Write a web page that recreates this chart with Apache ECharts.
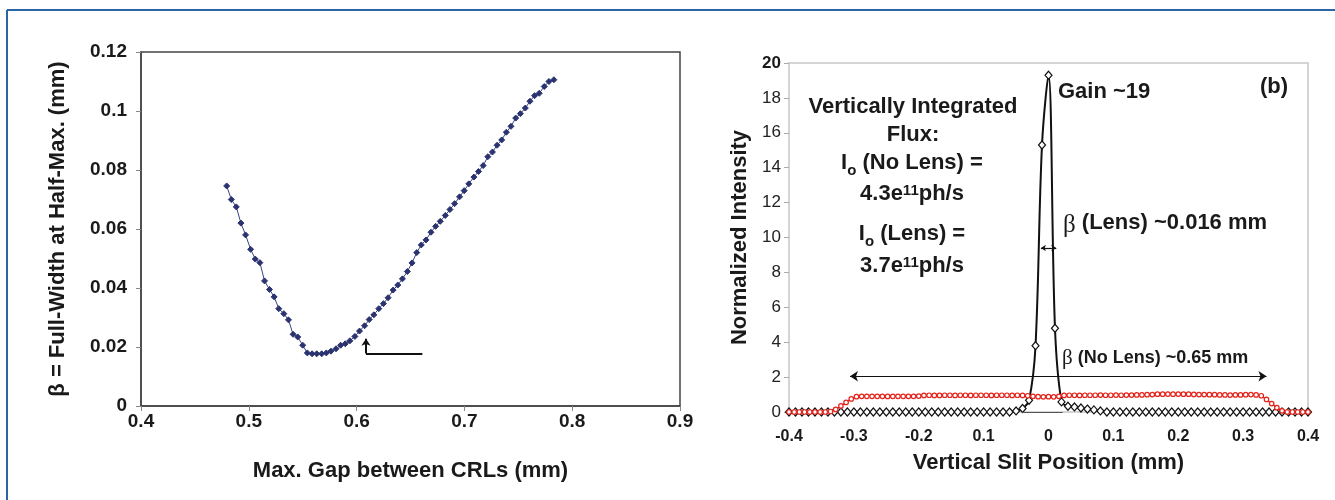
<!DOCTYPE html>
<html><head><meta charset="utf-8">
<script src="https://cdn.jsdelivr.net/npm/echarts@6/dist/echarts.min.js"></script>
<style>html,body{margin:0;padding:0;background:#fff}#c{width:1335px;height:500px}</style>
</head><body><div id="c"></div>
<script>
// ---- Left panel: FWHM vs max gap ----
const gapMm = [0.4795,0.4838,0.4884,0.4927,0.4970,0.5017,0.5060,0.5103,0.5146,0.5192,0.5235,0.5278,0.5325,0.5368,0.5411,0.5454,0.5500,0.5543,0.5587,0.5630,0.5676,0.5719,0.5762,0.5809,0.5852,0.5895,0.5938,0.5984,0.6027,0.6074,0.6117,0.6160,0.6206,0.6249,0.6292,0.6339,0.6382,0.6425,0.6471,0.6514,0.6558,0.6600,0.6644,0.6690,0.6733,0.6776,0.6823,0.6866,0.6909,0.6955,0.6998,0.7041,0.7088,0.7131,0.7174,0.7217,0.7260,0.7303,0.7346,0.7389,0.7432,0.7476,0.7519,0.7565,0.7608,0.7651,0.7694,0.7741,0.7784,0.7830];
const fwhmMm = [0.0746,0.0700,0.0675,0.0620,0.0580,0.0531,0.0498,0.0486,0.0424,0.0395,0.0370,0.0330,0.0313,0.0292,0.0243,0.0234,0.0206,0.0180,0.0177,0.0177,0.0177,0.0180,0.0186,0.0194,0.0206,0.0211,0.0221,0.0236,0.0254,0.0272,0.0293,0.0309,0.0330,0.0347,0.0367,0.0393,0.0410,0.0431,0.0456,0.0485,0.0520,0.0546,0.0563,0.0589,0.0609,0.0626,0.0646,0.0666,0.0686,0.0709,0.0730,0.0753,0.0776,0.0795,0.0815,0.0845,0.0861,0.0884,0.0902,0.0928,0.0948,0.0976,0.0991,0.1010,0.1033,0.1052,0.1060,0.1083,0.1100,0.1106];
const leftXTicks = ['0.4','0.5','0.6','0.7','0.8','0.9'];
const leftYTicks = ['0','0.02','0.04','0.06','0.08','0.1','0.12'];
const arrowLeft = {x0:0.661, x1:0.6087, y0:0.0178, yTip:0.0228};

// ---- Right panel: normalized intensity profiles ----
const slitLens = [-0.40,-0.39,-0.38,-0.37,-0.36,-0.35,-0.34,-0.33,-0.32,-0.31,-0.30,-0.29,-0.28,-0.27,-0.26,-0.25,-0.24,-0.23,-0.22,-0.21,-0.20,-0.19,-0.18,-0.17,-0.16,-0.15,-0.14,-0.13,-0.12,-0.11,-0.10,-0.09,-0.08,-0.07,-0.06,-0.05,-0.04,-0.03,-0.02,-0.01,0,0.01,0.02,0.03,0.04,0.05,0.06,0.07,0.08,0.09,0.10,0.11,0.12,0.13,0.14,0.15,0.16,0.17,0.18,0.19,0.20,0.21,0.22,0.23,0.24,0.25,0.26,0.27,0.28,0.29,0.30,0.31,0.32,0.33,0.34,0.35,0.36,0.37,0.38,0.39,0.40];
const lensIntensity = [0,0,0,0,0,0,0,0,0,0,0,0,0,0,0,0,0,0,0,0,0,0,0,0,0,0,0,0,0,0,0,0,0,0,0,
  0.06,0.2,0.67,3.8,15.3,19.3,4.8,0.58,0.33,0.29,0.23,0.17,0.12,0.06,
  0,0,0,0,0,0,0,0,0,0,0,0,0,0,0,0,0,0,0,0,0,0,0,0,0,0,0,0,0,0,0,0];
const slitNoLens = [-0.400,-0.392,-0.384,-0.376,-0.368,-0.360,-0.352,-0.344,-0.336,-0.328,-0.320,-0.312,-0.304,-0.296,-0.288,-0.280,-0.272,-0.264,-0.256,-0.248,-0.240,-0.232,-0.224,-0.216,-0.208,-0.200,-0.192,-0.184,-0.176,-0.168,-0.160,-0.152,-0.144,-0.136,-0.128,-0.120,-0.112,-0.104,-0.096,-0.088,-0.080,-0.072,-0.064,-0.056,-0.048,-0.040,-0.032,-0.024,-0.016,-0.008,0,0.008,0.016,0.024,0.032,0.040,0.048,0.056,0.064,0.072,0.080,0.088,0.096,0.104,0.112,0.120,0.128,0.136,0.144,0.152,0.160,0.168,0.176,0.184,0.192,0.200,0.208,0.216,0.224,0.232,0.240,0.248,0.256,0.264,0.272,0.280,0.288,0.296,0.304,0.312,0.320,0.328,0.336,0.344,0.352,0.360,0.368,0.376,0.384,0.392,0.400];
const noLensIntensity = [0,0,0,0,0,0,0,0,
  0.03,0.15,0.35,0.55,0.75,0.88,
  0.9,0.9,0.9,0.9,0.9,0.89,0.9,0.9,0.9,0.9,0.9,0.91,
  0.95,0.96,0.95,0.95,0.96,0.96,0.95,0.96,0.96,0.95,0.96,0.96,0.96,0.95,0.96,0.96,0.96,0.95,0.96,0.95,
  0.93,0.9,0.88,0.87,0.88,0.87,0.9,
  0.95,0.96,0.96,0.95,0.96,0.96,0.96,0.97,0.96,0.96,0.97,0.96,0.97,0.97,0.98,0.98,0.99,1.0,
  1.02,1.02,1.03,1.02,1.03,1.02,1.02,1.01,1.0,1.0,0.99,0.99,
  0.98,0.98,0.97,0.98,0.98,0.99,1.0,0.98,
  0.93,0.72,0.48,0.25,0.07,
  0,0,0,0,0];
const rightXTicks = ['-0.4','-0.3','-0.2','0.1','0','0.1','0.2','0.3','0.4'];
const noLensArrow = {x0:-0.306, x1:0.336, y:2.05};
const lensArrow = {x0:-0.0117, x1:0.012, y:9.4};
const baseSeg = {x0:-0.041, x1:0.022, y:0};

const F = "'Liberation Sans', Arial, sans-serif";
const SERIF = "'Liberation Serif', 'Times New Roman', serif";
const zip = (xs, ys) => xs.map((x, i) => [x, ys[i]]);
const chart = echarts.init(document.getElementById('c'));

const titleStyle = {fontFamily: F, fontSize: 22, fontWeight: 'bold', color: '#1a1a1a'};

function richText(x, y, text, rich, align) {
  return {type: 'text', x: x, y: y, silent: true,
    style: {text: text, rich: rich, align: align || 'center', verticalAlign: 'middle',
      fontFamily: F, fontSize: 22, fontWeight: 'bold', fill: '#1a1a1a'}};
}
const mainTok = {fontFamily: F, fontSize: 22, fontWeight: 'bold', color: '#1a1a1a', lineHeight: 26, verticalAlign: 'top'};
const subTok = {fontFamily: F, fontSize: 15, fontWeight: 'bold', color: '#1a1a1a', lineHeight: 10, verticalAlign: 'bottom'};
const supTok = {fontFamily: F, fontSize: 15, fontWeight: 'bold', color: '#1a1a1a', lineHeight: 12, verticalAlign: 'top'};
const greekTok = {fontFamily: SERIF, fontSize: 25, fontWeight: 'normal', color: '#1a1a1a', lineHeight: 26};

const option = {
  animation: false,
  grid: [
    {left: 141, top: 52, width: 539, height: 354, show: true, borderColor: '#444', borderWidth: 1.5},
    {left: 789, top: 63, width: 519, height: 349, show: true, borderColor: '#d4d4d4', borderWidth: 2}
  ],
  xAxis: [
    {gridIndex: 0, type: 'value', min: 0.4, max: 0.9, interval: 0.1,
      axisLine: {show: true, onZero: false, lineStyle: {color: '#444', width: 1.5}},
      axisTick: {show: true, length: 5, lineStyle: {color: '#888'}},
      splitLine: {show: false},
      axisLabel: {fontFamily: F, fontSize: 19, fontWeight: 'bold', color: '#1a1a1a', margin: 6,
        formatter: v => leftXTicks[Math.round((v - 0.4) / 0.1)]},
      name: 'Max. Gap between CRLs (mm)', nameLocation: 'middle', nameGap: 54, nameTextStyle: titleStyle},
    {gridIndex: 1, type: 'value', min: -0.4, max: 0.4, interval: 0.1,
      axisLine: {show: false, onZero: false}, axisTick: {show: false}, splitLine: {show: false},
      axisLabel: {fontFamily: F, fontSize: 16, fontWeight: 'bold', color: '#1a1a1a', margin: 17,
        formatter: v => rightXTicks[Math.round((v + 0.4) / 0.1)]},
      name: 'Vertical Slit Position (mm)', nameLocation: 'middle', nameGap: 40, nameTextStyle: titleStyle}
  ],
  yAxis: [
    {gridIndex: 0, type: 'value', min: 0, max: 0.12, interval: 0.02,
      axisLine: {show: true, onZero: false, lineStyle: {color: '#444', width: 1.5}},
      axisTick: {show: true, length: 5, lineStyle: {color: '#888'}},
      splitLine: {show: false},
      axisLabel: {fontFamily: F, fontSize: 19, fontWeight: 'bold', color: '#1a1a1a', margin: 14,
        formatter: v => leftYTicks[Math.round(v / 0.02)]},
      name: 'β = Full-Width at Half-Max. (mm)', nameLocation: 'middle', nameGap: 72, nameTextStyle: titleStyle},
    {gridIndex: 1, type: 'value', min: 0, max: 20, interval: 2,
      axisLine: {show: false, onZero: false},
      axisTick: {show: true, length: 5, lineStyle: {color: '#aaa'}},
      splitLine: {show: false},
      axisLabel: {fontFamily: F, fontSize: 17, color: '#222', margin: 8,
        formatter: v => v === 20 ? '{b|20}' : String(v),
        rich: {b: {fontFamily: F, fontSize: 17, fontWeight: 'bold', color: '#1a1a1a'}}},
      name: 'Normalized Intensity', nameLocation: 'middle', nameGap: 38, nameTextStyle: titleStyle}
  ],
  series: [
    {type: 'line', xAxisIndex: 0, yAxisIndex: 0, data: zip(gapMm, fwhmMm),
      symbol: 'diamond', symbolSize: 6, showSymbol: true,
      itemStyle: {color: '#2a336f', borderColor: '#2a336f'},
      lineStyle: {color: '#3a4380', width: 1},
      markLine: {silent: true, animation: false, label: {show: false},
        lineStyle: {color: '#111', width: 2, type: 'solid'},
        data: [
          [{coord: [arrowLeft.x0, arrowLeft.y0], symbol: 'none'}, {coord: [arrowLeft.x1, arrowLeft.y0], symbol: 'none'}],
          [{coord: [arrowLeft.x1, arrowLeft.y0], symbol: 'none'}, {coord: [arrowLeft.x1, arrowLeft.yTip], symbol: 'arrow', symbolSize: 7}]
        ]}
    },
    {type: 'line', xAxisIndex: 1, yAxisIndex: 1, data: zip(slitLens, lensIntensity),
      smooth: 0.35, symbol: 'diamond', symbolSize: [7, 8], showSymbol: true,
      itemStyle: {color: '#fff', borderColor: '#111', borderWidth: 1.2},
      lineStyle: {color: '#111', width: 2},
      markLine: {silent: true, animation: false, label: {show: false},
        lineStyle: {color: '#111', width: 1.2, type: 'solid'},
        data: [
          [{coord: [noLensArrow.x0, noLensArrow.y], symbol: 'arrow', symbolSize: 8},
           {coord: [noLensArrow.x1, noLensArrow.y], symbol: 'arrow', symbolSize: 8}],
          [{coord: [lensArrow.x0, lensArrow.y], symbol: 'arrow', symbolSize: 5},
           {coord: [lensArrow.x1, lensArrow.y], symbol: 'arrow', symbolSize: 5}],
          [{coord: [baseSeg.x0, baseSeg.y], symbol: 'none', lineStyle: {color: '#555', width: 1}},
           {coord: [baseSeg.x1, baseSeg.y], symbol: 'none'}]
        ]}
    },
    {type: 'line', xAxisIndex: 1, yAxisIndex: 1, data: zip(slitNoLens, noLensIntensity),
      symbol: 'circle', symbolSize: 4.5, showSymbol: true,
      itemStyle: {color: '#fff', borderColor: '#e5231b', borderWidth: 1.2},
      lineStyle: {color: '#e5231b', width: 1.4}}
  ],
  graphic: [
    {type: 'line', silent: true, shape: {x1: 7, y1: 10, x2: 1335, y2: 10}, style: {stroke: '#2c64a6', lineWidth: 2}},
    {type: 'line', silent: true, shape: {x1: 7, y1: 10, x2: 7, y2: 500}, style: {stroke: '#2c64a6', lineWidth: 2}},
    richText(913, 109, '{m|Vertically Integrated}', {m: mainTok}),
    richText(913, 137, '{m|Flux:}', {m: mainTok}),
    richText(912, 165, '{m|I}{s|o}{m| (No Lens) =}', {m: mainTok, s: subTok}),
    richText(912, 196, '{m|4.3e}{p|11}{m|ph/s}', {m: mainTok, p: supTok}),
    richText(912, 236, '{m|I}{s|o}{m| (Lens) =}', {m: mainTok, s: subTok}),
    richText(912, 268, '{m|3.7e}{p|11}{m|ph/s}', {m: mainTok, p: supTok}),
    richText(1058, 94, '{m|Gain ~19}', {m: mainTok}, 'left'),
    richText(1274, 89, '{m|(b)}', {m: mainTok}),
    richText(1063, 225, '{g|β}{m| (Lens) ~0.016 mm}', {m: mainTok, g: greekTok}, 'left'),
    richText(1062, 358, '{g|β}{m| (No Lens) ~0.65 mm}',
      {m: {fontFamily: F, fontSize: 18, fontWeight: 'bold', color: '#1a1a1a', lineHeight: 22},
       g: {fontFamily: SERIF, fontSize: 21, color: '#1a1a1a', lineHeight: 22}}, 'left')
  ]
};
chart.setOption(option);
</script>
</body></html>
